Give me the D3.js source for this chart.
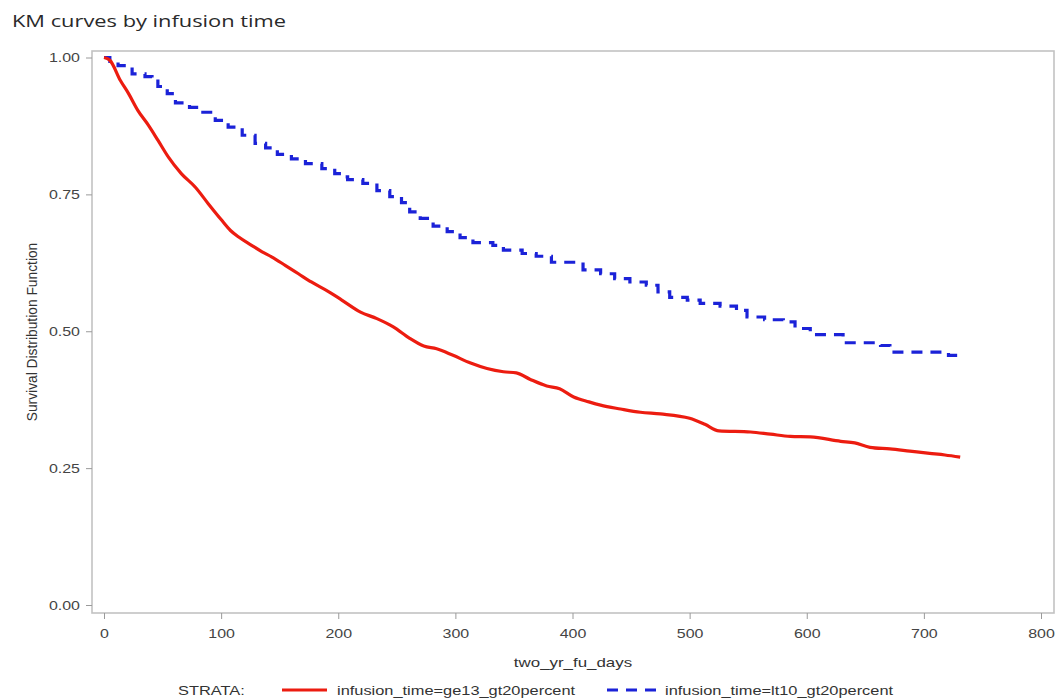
<!DOCTYPE html>
<html>
<head>
<meta charset="utf-8">
<script src="https://cdn.jsdelivr.net/npm/d3@7"></script>
<style>
  html, body { margin: 0; padding: 0; background: #fff; }
  svg { display: block; }
</style>
</head>
<body>
<svg id="chart" width="1062" height="698"></svg>
<script>
// Kaplan-Meier survival estimates, two strata of infusion time
const redDays = [0, 5, 14, 21, 29, 38, 46, 55, 66, 78, 89, 100, 108, 115, 126, 135, 143, 155, 166, 177,
  192, 203, 219, 233, 247, 261, 273, 284, 298, 313, 327, 341, 352, 364, 378, 389, 401, 414, 424, 441,
  458, 475, 500, 513, 525, 552, 569, 586, 603, 629, 641, 654, 671, 688, 705, 718, 731];
const redSurv = [1.000, 0.995, 0.958, 0.934, 0.903, 0.876, 0.849, 0.818, 0.788, 0.763, 0.733, 0.704, 0.684,
  0.672, 0.657, 0.645, 0.636, 0.620, 0.605, 0.590, 0.572, 0.557, 0.535, 0.523, 0.508, 0.487, 0.473, 0.468,
  0.456, 0.442, 0.432, 0.426, 0.424, 0.412, 0.400, 0.395, 0.380, 0.371, 0.365, 0.358, 0.352, 0.349, 0.341,
  0.330, 0.318, 0.316, 0.312, 0.308, 0.307, 0.299, 0.296, 0.288, 0.285, 0.281, 0.277, 0.274, 0.270];

const blueDays = [0, 5, 12, 24, 35, 41, 46, 54, 61, 73, 83, 95, 106, 118, 129, 138, 148, 160, 172, 186,
  197, 204, 208, 221, 233, 244, 254, 261, 270, 281, 293, 304, 315, 332, 341, 357, 369, 382, 409, 424,
  436, 449, 463, 473, 483, 498, 509, 526, 540, 549, 564, 580, 590, 603, 631, 663, 671, 721, 730];
const blueSurv = [1.000, 0.993, 0.985, 0.970, 0.965, 0.961, 0.947, 0.934, 0.917, 0.909, 0.900, 0.885, 0.873,
  0.858, 0.843, 0.835, 0.823, 0.815, 0.806, 0.797, 0.788, 0.782, 0.777, 0.770, 0.757, 0.746, 0.735, 0.718,
  0.706, 0.692, 0.682, 0.671, 0.662, 0.657, 0.648, 0.642, 0.637, 0.626, 0.612, 0.605, 0.596, 0.590, 0.584,
  0.572, 0.562, 0.557, 0.551, 0.546, 0.538, 0.526, 0.521, 0.517, 0.505, 0.494, 0.479, 0.474, 0.462, 0.456,
  0.456];

const xTicks = [0, 100, 200, 300, 400, 500, 600, 700, 800];
const yTicks = [0, 0.25, 0.5, 0.75, 1];

const strataLabels = ["infusion_time=ge13_gt20percent", "infusion_time=lt10_gt20percent"];
const strataColors = ["#ec1c10", "#1b22d8"];

const titleText = "KM curves by infusion time";
const xLabel = "two_yr_fu_days";
const yLabel = "Survival Distribution Function";

// Text is drawn slightly widened horizontally
const SX = 1.3;

const svg = d3.select("#chart");
const frame = { left: 92, right: 1054, top: 51, bottom: 613 };

const x = d3.scaleLinear().domain([0, 800]).range([104, 1041]);
const y = d3.scaleLinear().domain([0, 1]).range([605, 57.5]);

function wideText(sel, px, py, anchor) {
  return sel.attr("transform", `translate(${px},${py}) scale(${SX},1)`)
    .attr("text-anchor", anchor || "start");
}

// Title
wideText(svg.append("text"), 12, 27)
  .attr("font-family", "'Open Sans', sans-serif")
  .attr("font-size", 16.8)
  .attr("fill", "#2a2a2a")
  .text(titleText);

// Plot frame
svg.append("rect")
  .attr("x", frame.left).attr("y", frame.top)
  .attr("width", frame.right - frame.left).attr("height", frame.bottom - frame.top)
  .attr("fill", "none").attr("stroke", "#c2c2c2").attr("stroke-width", 1.6);

// Y axis
const yAxis = svg.append("g")
  .attr("transform", `translate(${frame.left},0)`)
  .call(d3.axisLeft(y).tickValues(yTicks).tickFormat(d3.format(".2f")).tickSize(6).tickSizeOuter(0));
yAxis.select(".domain").remove();
yAxis.selectAll(".tick line").attr("stroke", "#9a9a9a");
yAxis.selectAll(".tick text")
  .attr("x", null).attr("dy", "0.34em")
  .attr("transform", `translate(-12,0) scale(${SX},1)`)
  .attr("font-family", "'Liberation Sans', Arial, sans-serif")
  .attr("font-size", 12.3)
  .attr("fill", "#444");

// X axis
const xAxis = svg.append("g")
  .attr("transform", `translate(0,${frame.bottom})`)
  .call(d3.axisBottom(x).tickValues(xTicks).tickFormat(d3.format("d")).tickSize(6).tickSizeOuter(0));
xAxis.select(".domain").remove();
xAxis.selectAll(".tick line").attr("stroke", "#9a9a9a");
xAxis.selectAll(".tick text")
  .attr("y", null).attr("dy", null)
  .attr("transform", `translate(0,25) scale(${SX},1)`)
  .attr("font-family", "'Liberation Sans', Arial, sans-serif")
  .attr("font-size", 12.3)
  .attr("fill", "#444");

// Axis labels
wideText(svg.append("text"), (frame.left + frame.right) / 2, 667, "middle")
  .attr("font-family", "'Liberation Sans', Arial, sans-serif")
  .attr("font-size", 13)
  .attr("fill", "#333")
  .text(xLabel);

svg.append("text")
  .attr("transform", `translate(37,${(frame.top + frame.bottom) / 2}) rotate(-90) scale(1,${SX * 0.85})`)
  .attr("text-anchor", "middle")
  .attr("font-family", "'Liberation Sans', Arial, sans-serif")
  .attr("font-size", 13.8)
  .attr("fill", "#333")
  .text(yLabel);

// Survival curves
const redData = redDays.map((d, i) => [d, redSurv[i]]);
const blueData = blueDays.map((d, i) => [d, blueSurv[i]]);

const plot = svg.append("g");

plot.append("path")
  .datum(blueData)
  .attr("fill", "none")
  .attr("stroke", strataColors[1])
  .attr("stroke-width", 3.2)
  .attr("stroke-dasharray", "11,8")
  .attr("d", d3.line().x(d => x(d[0])).y(d => y(d[1])).curve(d3.curveStepAfter));

plot.append("path")
  .datum(redData)
  .attr("fill", "none")
  .attr("stroke", strataColors[0])
  .attr("stroke-width", 3.2)
  .attr("stroke-linejoin", "round")
  .attr("d", d3.line().x(d => x(d[0])).y(d => y(d[1])).curve(d3.curveMonotoneX));

// Legend
const legendY = 690;
const lg = svg.append("g").attr("font-family", "'Liberation Sans', Arial, sans-serif")
  .attr("font-size", 12.6).attr("fill", "#333");

wideText(lg.append("text"), 178, legendY + 4.5).text("STRATA:");

lg.append("line")
  .attr("x1", 282).attr("x2", 327).attr("y1", legendY).attr("y2", legendY)
  .attr("stroke", strataColors[0]).attr("stroke-width", 3.2);
wideText(lg.append("text"), 337, legendY + 4.5).text(strataLabels[0]);

lg.append("line")
  .attr("x1", 607).attr("x2", 657).attr("y1", legendY).attr("y2", legendY)
  .attr("stroke", strataColors[1]).attr("stroke-width", 3.2)
  .attr("stroke-dasharray", "11,8");
wideText(lg.append("text"), 665, legendY + 4.5).text(strataLabels[1]);
</script>
</body>
</html>
